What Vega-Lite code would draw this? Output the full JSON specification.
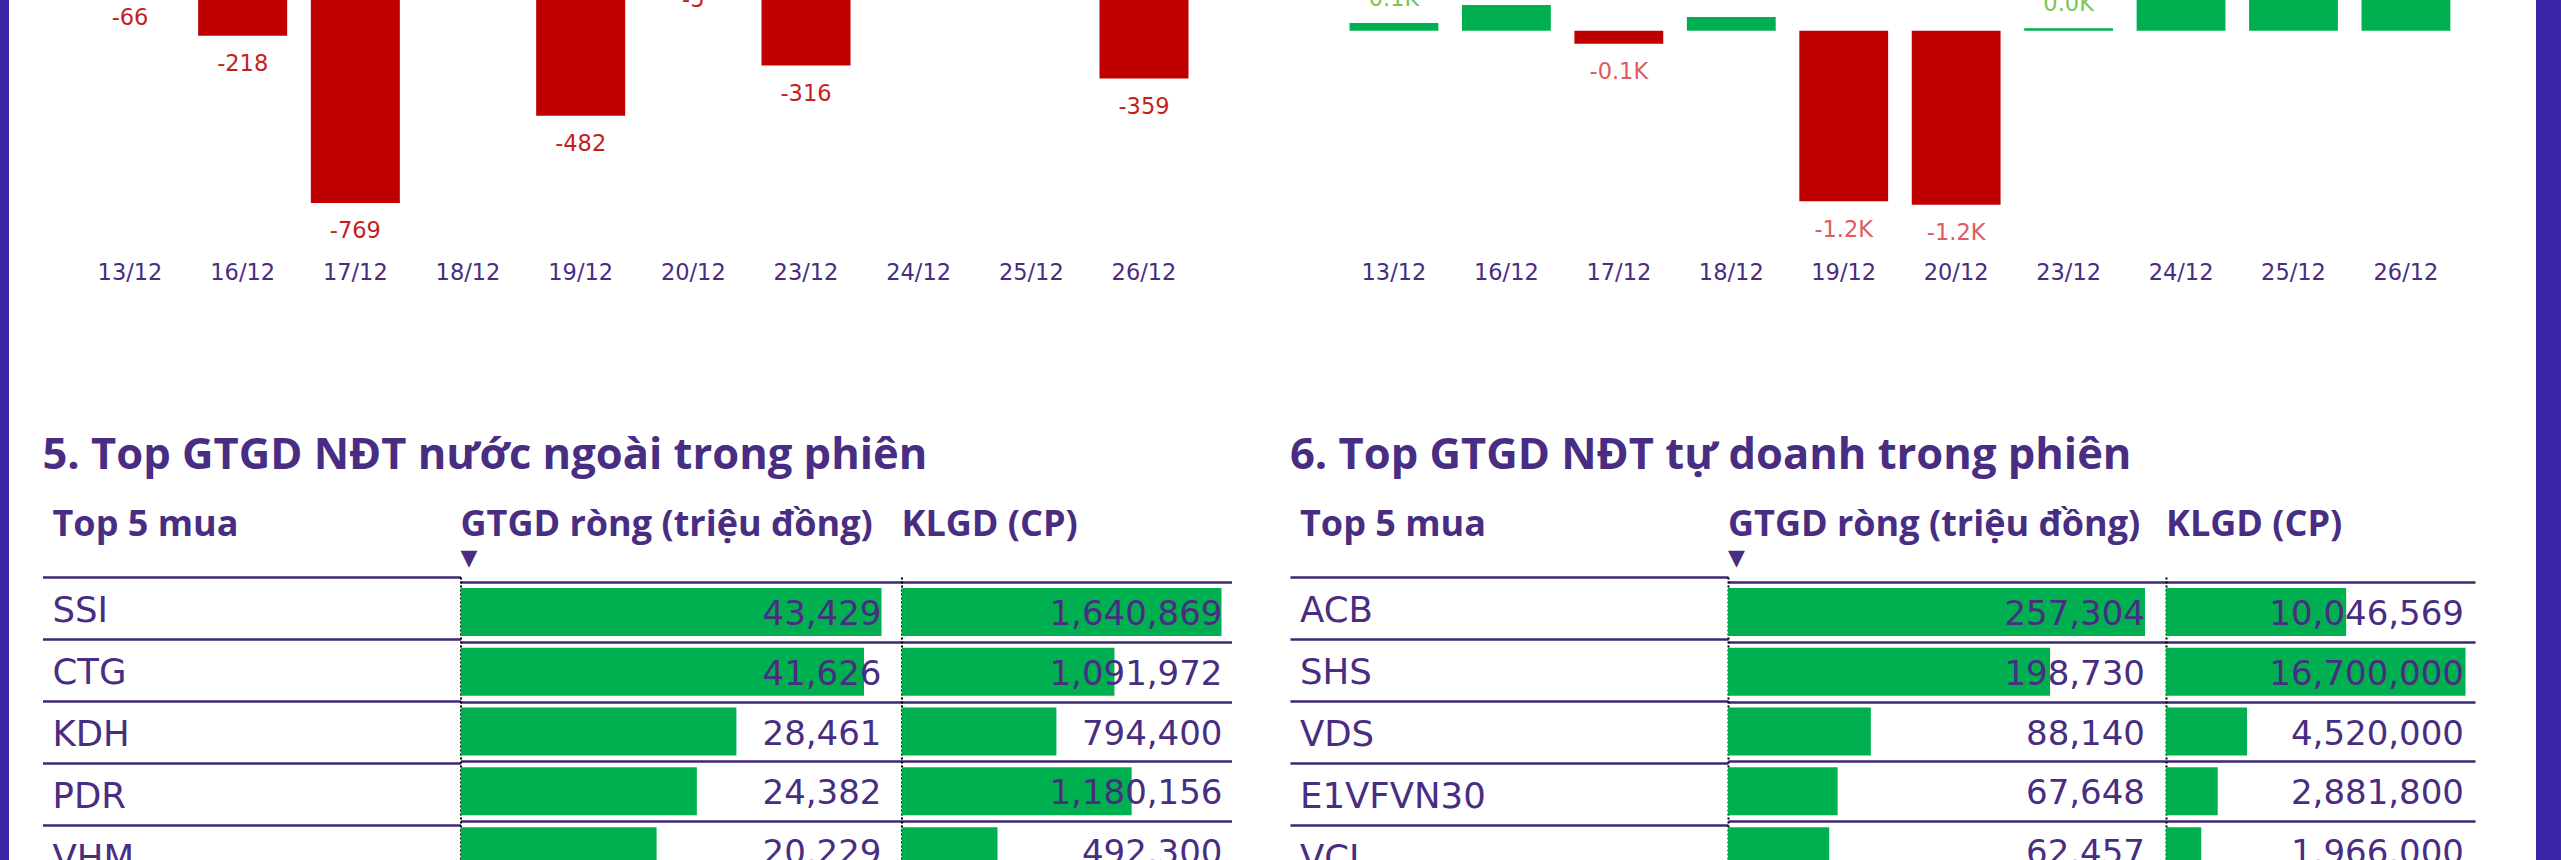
{
  "$schema": "https://vega.github.io/schema/vega-lite/v6.json",
  "background": "white",
  "padding": 0,
  "autosize": {"type": "pad"},
  "config": {
    "view": {"stroke": null},
    "locale": {"number": {"decimal": ".", "thousands": ",", "grouping": [3], "currency": ["$", ""], "minus": "-"}},
    "axis": {"domain": false, "ticks": false, "grid": false, "labelFont": "DejaVu Sans", "labelFontSize": 22.5, "labelColor": "#482D82", "labelPadding": 11, "minExtent": 0},
    "title": {"font": "Open Sans", "fontSize": 36, "fontWeight": 700, "color": "#482D82", "anchor": "start", "offset": 6.9, "subtitleFont": "DejaVu Sans", "subtitleFontSize": 22, "subtitleColor": "#482D82", "subtitlePadding": 4.1}
  },
  "datasets": {
    "foreignNet": [
      {"date": "13/12", "value": -66},
      {"date": "16/12", "value": -218},
      {"date": "17/12", "value": -769},
      {"date": "18/12", "value": 142},
      {"date": "19/12", "value": -482},
      {"date": "20/12", "value": -5},
      {"date": "23/12", "value": -316},
      {"date": "24/12", "value": 95},
      {"date": "25/12", "value": 188},
      {"date": "26/12", "value": -359}
    ],
    "propNet": [
      {"date": "13/12", "value": 54},
      {"date": "16/12", "value": 182},
      {"date": "17/12", "value": -92},
      {"date": "18/12", "value": 97},
      {"date": "19/12", "value": -1206},
      {"date": "20/12", "value": -1230},
      {"date": "23/12", "value": 17},
      {"date": "24/12", "value": 420},
      {"date": "25/12", "value": 365},
      {"date": "26/12", "value": 510}
    ],
    "foreignTop": [
      {"rank": 1, "ticker": "SSI", "gtgd": 43429, "klgd": 1640869},
      {"rank": 2, "ticker": "CTG", "gtgd": 41626, "klgd": 1091972},
      {"rank": 3, "ticker": "KDH", "gtgd": 28461, "klgd": 794400},
      {"rank": 4, "ticker": "PDR", "gtgd": 24382, "klgd": 1180156},
      {"rank": 5, "ticker": "VHM", "gtgd": 20229, "klgd": 492300}
    ],
    "propTop": [
      {"rank": 1, "ticker": "ACB", "gtgd": 257304, "klgd": 10046569},
      {"rank": 2, "ticker": "SHS", "gtgd": 198730, "klgd": 16700000},
      {"rank": 3, "ticker": "VDS", "gtgd": 88140, "klgd": 4520000},
      {"rank": 4, "ticker": "E1VFVN30", "gtgd": 67648, "klgd": 2881800},
      {"rank": 5, "ticker": "VCI", "gtgd": 62457, "klgd": 1966000}
    ]
  },
  "spacing": 0,
  "hconcat": [
    {
      "width": 9, "height": 860,
      "view": {"fill": "#3B24A8", "stroke": null},
      "data": {"values": [{"k": 1}]},
      "mark": {"type": "point", "opacity": 0, "size": 1},
      "encoding": {}
    },
    {
      "spacing": 149,
      "center": true,
      "vconcat": [
        {
          "width": 1256, "height": 250,
          "data": {"name": "foreignNet"},
          "encoding": {
            "x": {"field": "date", "type": "nominal", "sort": null,
                  "scale": {"domain": ["13/12","16/12","17/12","18/12","19/12","20/12","23/12","24/12","25/12","26/12"], "paddingInner": 0.21, "paddingOuter": 0.679},
                  "axis": {"labelAngle": 0, "title": null}},
            "y": {"field": "value", "type": "quantitative", "scale": {"domain": [-924, -100.5], "zero": false, "nice": false}, "axis": null}
          },
          "layer": [
            {
              "mark": {"type": "bar", "clip": true},
              "encoding": {
                "y2": {"datum": 0},
                "color": {"condition": {"test": "datum.value < 0", "value": "#C00000"}, "value": "#00B050"}
              }
            },
            {
              "transform": [{"filter": "datum.value < 0"}],
              "mark": {"type": "text", "clip": true, "baseline": "middle", "dy": 28.5, "font": "DejaVu Sans", "fontSize": 22.5, "color": "#C41E1E"},
              "encoding": {"text": {"field": "value", "type": "quantitative", "format": "d"}}
            },
            {
              "transform": [{"filter": "datum.value >= 0"}],
              "mark": {"type": "text", "clip": true, "baseline": "alphabetic", "dy": -17, "font": "DejaVu Sans", "fontSize": 22.5, "color": "#7DC452"},
              "encoding": {"text": {"field": "value", "type": "quantitative", "format": "d"}}
            }
          ]
        },
        {
          "title": {"text": "5. Top GTGD NĐT nước ngoài trong phiên", "fontSize": 43.5, "fontWeight": 700, "offset": 29, "anchor": "start"},
          "spacing": 0,
          "hconcat": [
            {
              "width": 418, "height": 284,
              "data": {"name": "foreignTop"},
              "title": {"text": "Top 5 mua", "subtitle": "▼", "subtitleColor": "transparent", "dx": 10},
              "mark": {"type": "text", "align": "left", "baseline": "middle", "dx": 10, "dy": 3, "font": "DejaVu Sans", "fontSize": 35.5, "color": "#482D82", "clip": true},
              "encoding": {
                "y": {"field": "rank", "type": "quantitative", "scale": {"domain": [0.5, 5.0806], "reverse": true, "zero": false, "nice": false},
                      "axis": {"grid": true, "gridColor": "#3F2778", "gridWidth": 2.5, "gridOpacity": 1, "values": [0.5, 1.5, 2.5, 3.5, 4.5], "labels": false, "ticks": false, "domain": false, "title": null}},
                "x": {"value": 0},
                "text": {"field": "ticker", "type": "nominal"}
              }
            },
            {
              "width": 441, "height": 284,
              "data": {"name": "foreignTop"},
              "title": {"text": "GTGD ròng (triệu đồng)", "subtitle": "▼"},
              "encoding": {
                "y": {"field": "rank", "type": "quantitative", "scale": {"domain": [0.5, 5.0806], "reverse": true, "zero": false, "nice": false},
                      "axis": {"grid": true, "gridColor": "#3F2778", "gridWidth": 2.5, "gridOpacity": 1, "values": [0.5, 1.5, 2.5, 3.5, 4.5], "labels": false, "ticks": false, "domain": true, "domainColor": "#000000", "domainDash": [2, 2], "domainWidth": 2, "title": null}}
              },
              "layer": [
                {
                  "mark": {"type": "bar", "orient": "horizontal", "size": 48, "color": "#00B050", "clip": true},
                  "encoding": {"x": {"field": "gtgd", "type": "quantitative", "scale": {"domain": [0, 45492], "nice": false}, "axis": null}}
                },
                {
                  "mark": {"type": "text", "align": "right", "baseline": "middle", "dx": -20, "dy": 3, "font": "DejaVu Sans", "fontSize": 34, "color": "#482D82", "clip": true},
                  "encoding": {"x": {"value": "width"}, "text": {"field": "gtgd", "type": "quantitative", "format": ","}}
                }
              ]
            },
            {
              "width": 330, "height": 284,
              "data": {"name": "foreignTop"},
              "title": {"text": "KLGD (CP)", "subtitle": "▼", "subtitleColor": "transparent"},
              "encoding": {
                "y": {"field": "rank", "type": "quantitative", "scale": {"domain": [0.5, 5.0806], "reverse": true, "zero": false, "nice": false},
                      "axis": {"grid": true, "gridColor": "#3F2778", "gridWidth": 2.5, "gridOpacity": 1, "values": [0.5, 1.5, 2.5, 3.5, 4.5], "labels": false, "ticks": false, "domain": true, "domainColor": "#000000", "domainDash": [2, 2], "domainWidth": 2, "title": null}}
              },
              "layer": [
                {
                  "mark": {"type": "bar", "orient": "horizontal", "size": 48, "color": "#00B050", "clip": true},
                  "encoding": {"x": {"field": "klgd", "type": "quantitative", "scale": {"domain": [0, 1692146], "nice": false}, "axis": null}}
                },
                {
                  "mark": {"type": "text", "align": "right", "baseline": "middle", "dx": -9, "dy": 3, "font": "DejaVu Sans", "fontSize": 34, "color": "#482D82", "clip": true},
                  "encoding": {"x": {"value": "width"}, "text": {"field": "klgd", "type": "quantitative", "format": ","}}
                }
              ]
            }
          ]
        }
      ]
    },
    {
      "spacing": 149,
      "center": true,
      "vconcat": [
        {
          "width": 1235, "height": 250,
          "data": {"name": "propNet"},
          "encoding": {
            "x": {"field": "date", "type": "nominal", "sort": null,
                  "scale": {"domain": ["13/12","16/12","17/12","18/12","19/12","20/12","23/12","24/12","25/12","26/12"], "paddingInner": 0.21, "paddingOuter": 0.5967, "align": 0.63},
                  "axis": {"labelAngle": 0, "title": null}},
            "y": {"field": "value", "type": "quantitative", "scale": {"domain": [-1550, 217], "zero": false, "nice": false}, "axis": null}
          },
          "layer": [
            {
              "mark": {"type": "bar", "clip": true},
              "encoding": {
                "y2": {"datum": 0},
                "color": {"condition": {"test": "datum.value < 0", "value": "#C00000"}, "value": "#00B050"}
              }
            },
            {
              "transform": [{"filter": "datum.value < 0"}],
              "mark": {"type": "text", "clip": true, "baseline": "middle", "dy": 28.5, "font": "DejaVu Sans", "fontSize": 22.5, "color": "#E05A63",
                       "text": {"expr": "format(datum.value / 1000, '.1f') + 'K'"}}
            },
            {
              "transform": [{"filter": "datum.value >= 0"}],
              "mark": {"type": "text", "clip": true, "baseline": "alphabetic", "dy": -17, "font": "DejaVu Sans", "fontSize": 22.5, "color": "#7DC452",
                       "text": {"expr": "format(datum.value / 1000, '.1f') + 'K'"}}
            }
          ]
        },
        {
          "title": {"text": "6. Top GTGD NĐT tự doanh trong phiên", "fontSize": 43.5, "fontWeight": 700, "offset": 29, "anchor": "start"},
          "spacing": 0,
          "hconcat": [
            {
              "width": 438, "height": 284,
              "data": {"name": "propTop"},
              "title": {"text": "Top 5 mua", "subtitle": "▼", "subtitleColor": "transparent", "dx": 10},
              "mark": {"type": "text", "align": "left", "baseline": "middle", "dx": 10, "dy": 3, "font": "DejaVu Sans", "fontSize": 35.5, "color": "#482D82", "clip": true},
              "encoding": {
                "y": {"field": "rank", "type": "quantitative", "scale": {"domain": [0.5, 5.0806], "reverse": true, "zero": false, "nice": false},
                      "axis": {"grid": true, "gridColor": "#3F2778", "gridWidth": 2.5, "gridOpacity": 1, "values": [0.5, 1.5, 2.5, 3.5, 4.5], "labels": false, "ticks": false, "domain": false, "title": null}},
                "x": {"value": 0},
                "text": {"field": "ticker", "type": "nominal"}
              }
            },
            {
              "width": 438, "height": 284,
              "data": {"name": "propTop"},
              "title": {"text": "GTGD ròng (triệu đồng)", "subtitle": "▼"},
              "encoding": {
                "y": {"field": "rank", "type": "quantitative", "scale": {"domain": [0.5, 5.0806], "reverse": true, "zero": false, "nice": false},
                      "axis": {"grid": true, "gridColor": "#3F2778", "gridWidth": 2.5, "gridOpacity": 1, "values": [0.5, 1.5, 2.5, 3.5, 4.5], "labels": false, "ticks": false, "domain": true, "domainColor": "#000000", "domainDash": [2, 2], "domainWidth": 2, "title": null}}
              },
              "layer": [
                {
                  "mark": {"type": "bar", "orient": "horizontal", "size": 48, "color": "#00B050", "clip": true},
                  "encoding": {"x": {"field": "gtgd", "type": "quantitative", "scale": {"domain": [0, 270262], "nice": false}, "axis": null}}
                },
                {
                  "mark": {"type": "text", "align": "right", "baseline": "middle", "dx": -21, "dy": 3, "font": "DejaVu Sans", "fontSize": 34, "color": "#482D82", "clip": true},
                  "encoding": {"x": {"value": "width"}, "text": {"field": "gtgd", "type": "quantitative", "format": ","}}
                }
              ]
            },
            {
              "width": 309, "height": 284,
              "data": {"name": "propTop"},
              "title": {"text": "KLGD (CP)", "subtitle": "▼", "subtitleColor": "transparent"},
              "encoding": {
                "y": {"field": "rank", "type": "quantitative", "scale": {"domain": [0.5, 5.0806], "reverse": true, "zero": false, "nice": false},
                      "axis": {"grid": true, "gridColor": "#3F2778", "gridWidth": 2.5, "gridOpacity": 1, "values": [0.5, 1.5, 2.5, 3.5, 4.5], "labels": false, "ticks": false, "domain": true, "domainColor": "#000000", "domainDash": [2, 2], "domainWidth": 2, "title": null}}
              },
              "layer": [
                {
                  "mark": {"type": "bar", "orient": "horizontal", "size": 48, "color": "#00B050", "clip": true},
                  "encoding": {"x": {"field": "klgd", "type": "quantitative", "scale": {"domain": [0, 17229716], "nice": false}, "axis": null}}
                },
                {
                  "mark": {"type": "text", "align": "right", "baseline": "middle", "dx": -11, "dy": 3, "font": "DejaVu Sans", "fontSize": 34, "color": "#482D82", "clip": true},
                  "encoding": {"x": {"value": "width"}, "text": {"field": "klgd", "type": "quantitative", "format": ","}}
                }
              ]
            }
          ]
        }
      ]
    },
    {
      "width": 36, "height": 860,
      "view": {"stroke": null},
      "data": {"values": [{"k": 1}]},
      "mark": {"type": "point", "opacity": 0, "size": 1},
      "encoding": {}
    },
    {
      "width": 25, "height": 860,
      "view": {"fill": "#3B24A8", "stroke": null},
      "data": {"values": [{"k": 1}]},
      "mark": {"type": "point", "opacity": 0, "size": 1},
      "encoding": {}
    }
  ]
}
